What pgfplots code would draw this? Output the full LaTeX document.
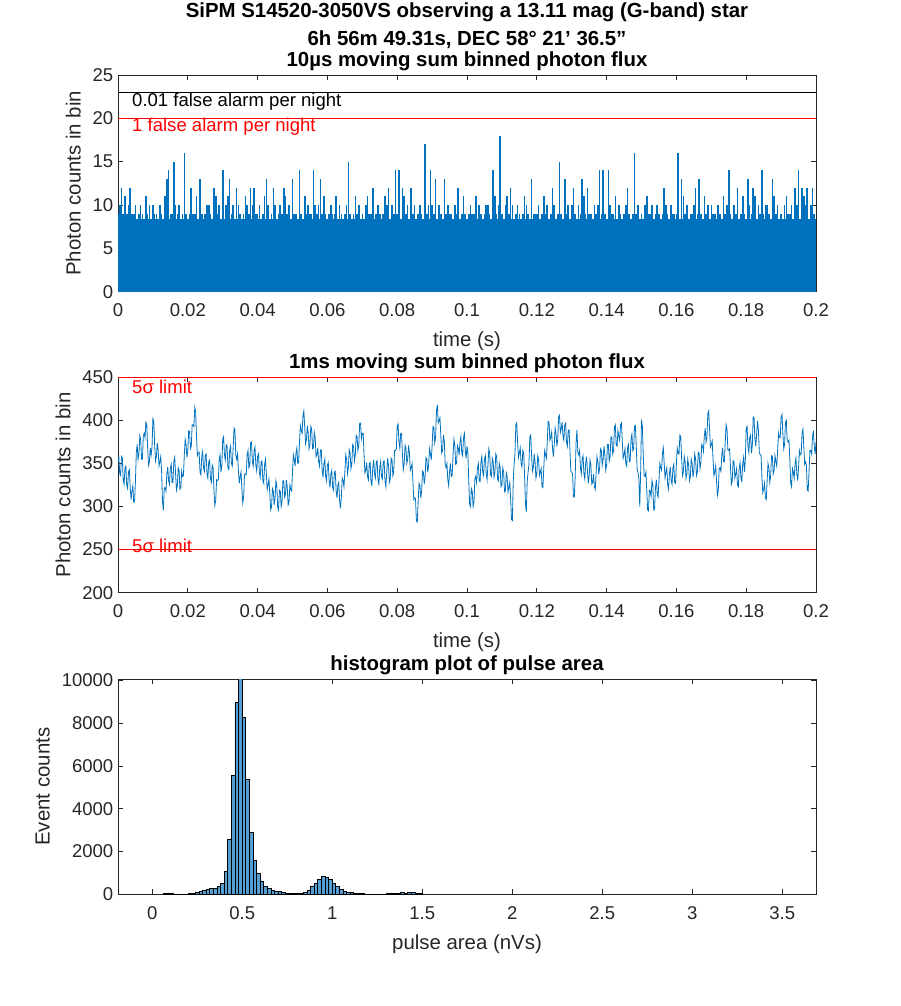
\documentclass[border=0pt]{standalone}
\usepackage{pgfplots}
\pgfplotsset{compat=1.18}
\usepackage{fontspec}
\setmainfont{Liberation Sans}
\definecolor{mblue}{RGB}{0,114,189}
\definecolor{hblue}{RGB}{83,158,210}
\definecolor{axgray}{RGB}{38,38,38}
\begin{document}
\begin{tikzpicture}[x=1pt,y=1pt]
\path[use as bounding box] (0,0) rectangle (675,-754.5);
\pgfplotsset{
 mstyle/.style={
  width=523.5pt, scale only axis,
  axis line style={axgray, line width=0.6pt},
  tick style={axgray, line width=0.6pt},
  major tick length=3.75pt,
  tick align=inside, xtick pos=both, ytick pos=both,
  ticklabel style={font=\fontsize{13.9}{16}\selectfont, text=axgray},
  x tick label style={yshift=-5.6pt},
  label style={font=\fontsize{15.3}{18}\selectfont, text=axgray},
  xlabel style={at={(ticklabel cs:0.5,4.5pt)}},
  ylabel style={at={(ticklabel cs:0.5,2pt)}},
  every axis title/.style={at={(0.5,1)}, anchor=base, yshift=6.6pt, font=\bfseries\fontsize{15.3}{18}\selectfont},
  /pgf/number format/assume math mode=true,
  scaled x ticks=false, scaled y ticks=false,
  clip mode=individual,
 }
}
% ---------------- top panel ----------------
\begin{axis}[mstyle, height=162.5pt, at={(88.5pt,-56.25pt)}, anchor=north west,
  xmin=0, xmax=0.2, ymin=0, ymax=25,
  xtick={0,0.02,0.04,0.06,0.08,0.1,0.12,0.14,0.16,0.18,0.2},
  ytick={0,5,10,15,20,25},
  xticklabel style={/pgf/number format/fixed},
  xlabel={time (s)}, ylabel={Photon counts in bin},
  title={10µs moving sum binned photon flux}]
\addplot[fill=mblue, draw=none] coordinates {(0,8.4) (0.2,8.4)} \closedcycle;
\addplot[ycomb, draw=mblue, line width=1.2pt, mark=none] coordinates {
(0,9)(0.0005,10)(0.001,12)(0.0015,9)(0.002,11)(0.0025,9)(0.003,10)(0.0035,12)(0.004,9)(0.0045,9)(0.005,10)(0.006,9)(0.0065,10)(0.007,9)(0.008,11)(0.0085,9)(0.009,10)
(0.01,10)(0.0105,9)(0.011,9)(0.012,10)(0.0125,9)(0.0135,11)(0.014,13)(0.0145,14)(0.015,9)(0.0155,9)(0.016,15)(0.0165,10)(0.017,9)(0.0175,10)(0.0185,9)(0.019,16)(0.0195,9)
(0.0205,9)(0.021,12)(0.0215,9)(0.022,9)(0.0225,11)(0.0235,13)(0.024,9)(0.025,9)(0.0255,10)(0.026,10)(0.0265,9)(0.0275,12)(0.028,11)(0.0285,9)(0.029,10)
(0.03,14)(0.031,10)(0.0315,11)(0.032,13)(0.0325,9)(0.033,10)(0.034,12)(0.0345,10)(0.035,9)(0.036,9)(0.0365,11)(0.037,10)(0.0375,9)(0.038,12)(0.0385,10)(0.039,12)(0.0395,9)
(0.04,9)(0.0405,10)(0.0415,9)(0.042,11)(0.0425,13)(0.043,10)(0.044,9)(0.0445,12)(0.045,10)(0.046,9)(0.0465,10)(0.047,9)(0.0475,12)(0.048,11)(0.0485,9)(0.049,10)
(0.05,13)(0.0505,9)(0.051,9)(0.052,14)(0.0525,9)(0.0535,11)(0.054,9)(0.0545,10)(0.055,9)(0.0555,9)(0.056,14)(0.0565,10)(0.057,9)(0.0575,10)(0.058,13)(0.0585,9)(0.059,11)(0.0595,9)
(0.0605,9)(0.061,10)(0.0615,9)(0.062,9)(0.0625,11)(0.0635,10)(0.064,9)(0.065,9)(0.0655,10)(0.066,15)(0.0665,9)(0.0675,9)(0.068,11)(0.0685,9)(0.069,10)
(0.07,9)(0.071,10)(0.0715,11)(0.072,9)(0.0725,9)(0.073,12)(0.074,9)(0.0745,10)(0.075,9)(0.076,9)(0.0765,11)(0.077,10)(0.0775,12)(0.0785,10)(0.079,9)(0.0795,14)
(0.08,9)(0.0805,14)(0.0815,12)(0.082,11)(0.0825,9)(0.083,10)(0.084,12)(0.0845,9)(0.085,10)(0.086,9)(0.0865,10)(0.087,9)(0.088,17)(0.0885,9)(0.089,10)(0.0895,14)
(0.09,10)(0.0905,9)(0.091,13)(0.092,10)(0.0925,9)(0.0935,13)(0.094,9)(0.0945,10)(0.095,9)(0.0955,9)(0.0965,10)(0.097,9)(0.0975,12)(0.0985,9)(0.099,11)(0.0995,9)
(0.1005,9)(0.101,10)(0.1015,9)(0.102,9)(0.1025,11)(0.1035,10)(0.104,9)(0.105,9)(0.1055,10)(0.106,10)(0.1065,9)(0.1075,14)(0.108,11)(0.1085,9)(0.109,10)(0.1095,18)
(0.11,9)(0.111,10)(0.1115,11)(0.112,9)(0.1125,12)(0.113,10)(0.114,9)(0.1145,10)(0.115,9)(0.116,9)(0.1165,11)(0.117,10)(0.1175,9)(0.1185,13)(0.119,9)(0.1195,9)
(0.12,9)(0.1205,10)(0.1215,9)(0.122,11)(0.1225,9)(0.123,10)(0.124,9)(0.1245,12)(0.125,10)(0.126,9)(0.1265,15)(0.127,9)(0.128,13)(0.1285,9)(0.129,10)
(0.13,10)(0.1305,12)(0.131,9)(0.132,10)(0.1325,9)(0.133,13)(0.1335,11)(0.134,9)(0.1345,12)(0.135,9)(0.1355,9)(0.1365,10)(0.137,9)(0.1375,10)(0.138,14)(0.1385,9)(0.139,14)(0.1395,9)
(0.1405,14)(0.141,10)(0.1415,9)(0.142,9)(0.1425,11)(0.1435,10)(0.144,9)(0.145,9)(0.1455,10)(0.146,12)(0.1465,9)(0.1475,9)(0.148,16)(0.1485,9)(0.149,10)
(0.15,9)(0.151,10)(0.1515,11)(0.152,9)(0.1525,9)(0.153,10)(0.154,9)(0.1545,10)(0.155,9)(0.156,9)(0.1565,12)(0.157,10)(0.1575,9)(0.1585,10)(0.159,9)(0.1595,9)
(0.16,9)(0.1605,16)(0.1615,13)(0.162,11)(0.1625,9)(0.163,10)(0.164,9)(0.1645,9)(0.165,10)(0.1655,12)(0.166,9)(0.1665,13)(0.167,9)(0.168,11)(0.1685,9)(0.169,10)
(0.17,10)(0.1705,9)(0.171,9)(0.172,10)(0.1725,9)(0.1735,11)(0.174,9)(0.1745,10)(0.175,14)(0.1755,9)(0.1765,10)(0.177,9)(0.1775,12)(0.1785,9)(0.179,11)(0.1795,9)
(0.1805,13)(0.181,10)(0.1815,9)(0.182,12)(0.1825,11)(0.1835,10)(0.184,9)(0.1845,14)(0.185,9)(0.1855,10)(0.186,10)(0.1865,9)(0.1875,13)(0.188,11)(0.1885,9)(0.189,10)
(0.19,9)(0.191,10)(0.1915,11)(0.192,9)(0.1925,9)(0.193,10)(0.194,12)(0.1945,10)(0.195,14)(0.196,12)(0.1965,11)(0.197,10)(0.1975,12)(0.1985,10)(0.199,12)(0.1995,9)
};
\addplot[black, line width=0.75pt, mark=none] coordinates {(0,23) (0.2,23)};
\addplot[red, line width=0.75pt, mark=none] coordinates {(0,20) (0.2,20)};
\node[anchor=west, inner sep=0pt, font=\fontsize{13.9}{16}\selectfont, text=black] at (axis cs:0.004,21.9) {0.01 false alarm per night};
\node[anchor=west, inner sep=0pt, font=\fontsize{13.9}{16}\selectfont, text=red] at (axis cs:0.004,19.0) {1 false alarm per night};
\node[anchor=base, font=\bfseries\fontsize{15.3}{18}\selectfont] at (rel axis cs:0.5,1) [yshift=21.8pt] {6h 56m 49.31s, DEC 58° 21’ 36.5”};
\node[anchor=base, font=\bfseries\fontsize{15.3}{18}\selectfont] at (rel axis cs:0.5,1) [yshift=43.3pt] {SiPM S14520-3050VS observing a 13.11 mag (G-band) star};
\end{axis}
% ---------------- middle panel ----------------
\begin{axis}[mstyle, height=161.5pt, at={(88.5pt,-283pt)}, anchor=north west,
  xmin=0, xmax=0.2, ymin=200, ymax=450,
  xtick={0,0.02,0.04,0.06,0.08,0.1,0.12,0.14,0.16,0.18,0.2},
  ytick={200,250,300,350,400,450},
  xticklabel style={/pgf/number format/fixed},
  xlabel={time (s)}, ylabel={Photon counts in bin},
  title={1ms moving sum binned photon flux}]
\addplot[mblue, line width=0.6pt, mark=none] coordinates {
(0,352)(0.00025,357)(0.0005,338)(0.00075,336)(0.001,358)(0.00125,356)(0.0015,330)(0.00175,326)(0.002,345)(0.00225,347)(0.0025,325)(0.00275,321)(0.003,340)(0.00325,343)(0.0035,322)(0.00375,308)(0.004,318)(0.00425,324)(0.0045,305)(0.00475,306)
(0.005,330)(0.00525,363)(0.0055,372)(0.00575,355)(0.006,362)(0.00625,382)(0.0065,378)(0.00675,355)(0.007,355)(0.00725,382)(0.0075,385)(0.00775,380)(0.008,398)(0.00825,395)(0.0085,368)(0.00875,348)(0.009,352)(0.00925,368)(0.0095,360)(0.00975,369)
(0.01,402)(0.01025,399)(0.0105,372)(0.01075,353)(0.011,358)(0.01125,374)(0.0115,366)(0.01175,347)(0.012,352)(0.01225,358)(0.0125,340)(0.01275,306)(0.013,296)(0.01325,321)(0.0135,322)(0.01375,318)(0.014,338)(0.01425,346)(0.0145,330)(0.01475,326)
(0.015,345)(0.01525,349)(0.0155,328)(0.01575,328)(0.016,352)(0.01625,357)(0.0165,338)(0.01675,319)(0.017,324)(0.01725,345)(0.0175,342)(0.01775,320)(0.018,322)(0.01825,341)(0.0185,335)(0.01875,336)(0.019,360)(0.01925,378)(0.0195,372)(0.01975,357)
(0.02,365)(0.02025,388)(0.0205,387)(0.02075,367)(0.021,370)(0.02125,395)(0.0215,395)(0.02175,393)(0.022,415)(0.02225,410)(0.0225,380)(0.02275,359)(0.023,362)(0.02325,363)(0.0235,340)(0.02375,337)(0.024,358)(0.02425,364)(0.0245,345)(0.02475,341)
(0.025,360)(0.02525,361)(0.0255,338)(0.02575,333)(0.026,352)(0.02625,354)(0.0265,332)(0.02675,328)(0.027,348)(0.02725,345)(0.0275,318)(0.02775,301)(0.028,307)(0.02825,331)(0.0285,330)(0.02875,331)(0.029,355)(0.02925,360)(0.0295,340)(0.02975,347)
(0.03,378)(0.03025,381)(0.0305,360)(0.03075,354)(0.031,372)(0.03125,371)(0.0315,345)(0.03175,343)(0.032,365)(0.03225,370)(0.0325,350)(0.03275,347)(0.033,368)(0.03325,391)(0.0335,389)(0.03375,360)(0.034,355)(0.03425,361)(0.0345,342)(0.03475,327)
(0.035,335)(0.03525,340)(0.0355,320)(0.03575,304)(0.036,311)(0.03625,337)(0.0365,338)(0.03675,337)(0.037,360)(0.03725,365)(0.0375,345)(0.03775,348)(0.038,374)(0.03825,375)(0.0385,352)(0.03875,347)(0.039,365)(0.03925,369)(0.0395,348)(0.03975,341)
(0.04,358)(0.04025,361)(0.0405,340)(0.04075,334)(0.041,352)(0.04125,353)(0.0415,330)(0.04175,327)(0.042,348)(0.04225,355)(0.0425,338)(0.04275,320)(0.043,325)(0.04325,332)(0.0435,315)(0.04375,296)(0.044,300)(0.04425,321)(0.0445,318)(0.04475,302)
(0.045,310)(0.04525,330)(0.0455,325)(0.04575,299)(0.046,296)(0.04625,319)(0.0465,318)(0.04675,300)(0.047,305)(0.04725,330)(0.0475,330)(0.04775,311)(0.048,315)(0.04825,331)(0.0485,322)(0.04875,302)(0.049,305)(0.04925,325)(0.0495,320)(0.04975,318)
(0.05,340)(0.05025,360)(0.0505,355)(0.05075,347)(0.051,362)(0.05125,368)(0.0515,350)(0.05175,351)(0.052,375)(0.05225,394)(0.0525,388)(0.05275,385)(0.053,406)(0.05325,411)(0.0535,392)(0.05375,373)(0.054,378)(0.05425,394)(0.0545,385)(0.05475,367)
(0.055,372)(0.05525,393)(0.0555,390)(0.05575,367)(0.056,368)(0.05625,386)(0.0565,380)(0.05675,358)(0.057,360)(0.05725,368)(0.0575,352)(0.05775,347)(0.058,365)(0.05825,366)(0.0585,342)(0.05875,334)(0.059,350)(0.05925,355)(0.0595,335)(0.05975,330)
(0.06,348)(0.06025,351)(0.0605,330)(0.06075,322)(0.061,338)(0.06125,342)(0.0615,322)(0.06175,319)(0.062,340)(0.06225,341)(0.0625,318)(0.06275,310)(0.063,325)(0.06325,328)(0.0635,307)(0.06375,298)(0.064,312)(0.06425,333)(0.0645,330)(0.06475,323)
(0.065,340)(0.06525,360)(0.0655,355)(0.06575,338)(0.066,345)(0.06625,366)(0.0665,362)(0.06675,344)(0.067,350)(0.06725,372)(0.0675,370)(0.06775,353)(0.068,360)(0.06825,383)(0.0685,381)(0.06875,365)(0.069,372)(0.06925,397)(0.0695,397)(0.06975,379)
(0.07,385)(0.07025,385)(0.0705,360)(0.07075,339)(0.071,342)(0.07125,351)(0.0715,335)(0.07175,331)(0.072,350)(0.07225,351)(0.0725,328)(0.07275,325)(0.073,345)(0.07325,354)(0.0735,338)(0.07375,333)(0.074,352)(0.07425,353)(0.0745,330)(0.07475,326)
(0.075,345)(0.07525,352)(0.0755,335)(0.07575,332)(0.076,352)(0.07625,353)(0.0765,330)(0.07675,323)(0.077,340)(0.07725,356)(0.0775,348)(0.07775,328)(0.078,332)(0.07825,356)(0.0785,355)(0.07875,336)(0.079,340)(0.07925,365)(0.0795,365)(0.07975,367)
(0.08,393)(0.08025,396)(0.0805,375)(0.08075,368)(0.081,385)(0.08125,385)(0.0815,360)(0.08175,343)(0.082,350)(0.08225,371)(0.0825,368)(0.08275,350)(0.083,355)(0.08325,371)(0.0835,362)(0.08375,342)(0.084,345)(0.08425,350)(0.0845,330)(0.08475,308)
(0.085,310)(0.08525,309)(0.0855,283)(0.08575,282)(0.086,305)(0.08625,327)(0.0865,325)(0.08675,310)(0.087,318)(0.08725,341)(0.0875,340)(0.08775,326)(0.088,335)(0.08825,357)(0.0885,355)(0.08875,340)(0.089,348)(0.08925,367)(0.0895,362)(0.08975,354)
(0.09,370)(0.09025,393)(0.0905,392)(0.09075,374)(0.091,380)(0.09125,411)(0.0915,418)(0.09175,397)(0.092,400)(0.09225,403)(0.0925,382)(0.09275,362)(0.093,365)(0.09325,383)(0.0935,376)(0.09375,349)(0.094,345)(0.09425,350)(0.0945,331)(0.09475,324)
(0.095,340)(0.09525,350)(0.0955,335)(0.09575,336)(0.096,360)(0.09625,378)(0.0965,372)(0.09675,349)(0.097,350)(0.09725,371)(0.0975,368)(0.09775,360)(0.098,375)(0.09825,381)(0.0985,362)(0.09875,359)(0.099,380)(0.09925,385)(0.0995,365)(0.09975,356)
(0.1,370)(0.10025,362)(0.1005,330)(0.10075,303)(0.101,300)(0.10125,321)(0.1015,318)(0.10175,300)(0.102,305)(0.10225,332)(0.1025,335)(0.10275,328)(0.103,345)(0.10325,350)(0.1035,330)(0.10375,329)(0.104,352)(0.10425,358)(0.1045,340)(0.10475,336)
(0.105,355)(0.10525,359)(0.1055,338)(0.10575,331)(0.106,348)(0.10625,367)(0.1065,362)(0.10675,337)(0.107,335)(0.10725,356)(0.1075,352)(0.10775,334)(0.108,340)(0.10825,361)(0.1085,358)(0.10875,332)(0.109,330)(0.10925,350)(0.1095,345)(0.10975,323)
(0.11,325)(0.11025,345)(0.1105,340)(0.11075,317)(0.111,318)(0.11125,339)(0.1115,335)(0.11175,317)(0.112,322)(0.11225,328)(0.1125,310)(0.11275,285)(0.113,284)(0.11325,329)(0.1135,350)(0.11375,361)(0.114,395)(0.11425,397)(0.1145,375)(0.11475,357)
(0.115,362)(0.11525,368)(0.1155,350)(0.11575,346)(0.116,365)(0.11625,362)(0.1165,335)(0.11675,303)(0.117,294)(0.11725,329)(0.1175,340)(0.11775,349)(0.118,381)(0.11825,383)(0.1185,360)(0.11875,341)(0.119,345)(0.11925,361)(0.1195,352)(0.11975,333)
(0.12,338)(0.12025,359)(0.1205,355)(0.12075,336)(0.121,340)(0.12125,344)(0.1215,323)(0.12175,322)(0.122,345)(0.12225,365)(0.1225,360)(0.12275,356)(0.123,375)(0.12325,399)(0.1235,398)(0.12375,377)(0.124,380)(0.12425,386)(0.1245,368)(0.12475,358)
(0.125,372)(0.12525,391)(0.1255,385)(0.12575,370)(0.126,378)(0.12625,404)(0.1265,406)(0.12675,386)(0.127,390)(0.12725,398)(0.1275,382)(0.12775,377)(0.128,395)(0.12825,397)(0.1285,375)(0.12875,370)(0.129,388)(0.12925,389)(0.1295,365)(0.12975,341)
(0.13,340)(0.13025,338)(0.1305,311)(0.13075,311)(0.131,335)(0.13125,374)(0.1315,389)(0.13175,363)(0.132,360)(0.13225,365)(0.1325,345)(0.13275,338)(0.133,355)(0.13325,359)(0.1335,338)(0.13375,332)(0.134,350)(0.13425,358)(0.1345,342)(0.13475,327)
(0.135,335)(0.13525,354)(0.1355,348)(0.13575,326)(0.136,328)(0.13625,338)(0.1365,323)(0.13675,320)(0.137,340)(0.13725,358)(0.1375,352)(0.13775,337)(0.138,345)(0.13825,367)(0.1385,365)(0.13875,348)(0.139,355)(0.13925,370)(0.1395,360)(0.13975,342)
(0.14,348)(0.14025,372)(0.1405,372)(0.14075,353)(0.141,358)(0.14125,381)(0.1415,380)(0.14175,361)(0.142,365)(0.14225,392)(0.1425,395)(0.14275,371)(0.143,370)(0.14325,388)(0.1435,382)(0.14375,377)(0.144,395)(0.14425,397)(0.1445,375)(0.14475,356)
(0.145,360)(0.14525,367)(0.1455,350)(0.14575,347)(0.146,368)(0.14625,372)(0.1465,352)(0.14675,353)(0.147,378)(0.14725,384)(0.1475,365)(0.14775,367)(0.148,393)(0.14825,394)(0.1485,370)(0.14875,343)(0.149,340)(0.14925,332)(0.1495,300)(0.14975,339)
(0.15,401)(0.15025,393)(0.1505,360)(0.15075,336)(0.151,335)(0.15125,340)(0.1515,320)(0.15175,296)(0.152,295)(0.15225,319)(0.1525,318)(0.15275,312)(0.153,330)(0.15325,325)(0.1535,296)(0.15375,297)(0.154,322)(0.15425,331)(0.1545,315)(0.15475,311)
(0.155,330)(0.15525,350)(0.1555,345)(0.15575,342)(0.156,362)(0.15625,368)(0.1565,350)(0.15675,333)(0.157,340)(0.15725,345)(0.1575,325)(0.15775,320)(0.158,338)(0.15825,346)(0.1585,330)(0.15875,326)(0.159,345)(0.15925,349)(0.1595,328)(0.15975,327)
(0.16,350)(0.16025,368)(0.1605,362)(0.16075,361)(0.161,383)(0.16125,381)(0.1615,355)(0.16175,336)(0.162,340)(0.16225,358)(0.1625,352)(0.16275,333)(0.163,338)(0.16325,355)(0.1635,348)(0.16375,330)(0.164,335)(0.16425,355)(0.1645,350)(0.16475,334)
(0.165,342)(0.16525,361)(0.1655,355)(0.16575,336)(0.166,340)(0.16625,363)(0.1665,362)(0.16675,344)(0.167,350)(0.16725,372)(0.1675,370)(0.16775,364)(0.168,382)(0.16825,391)(0.1685,375)(0.16875,380)(0.169,408)(0.16925,411)(0.1695,390)(0.16975,369)
(0.17,372)(0.17025,376)(0.1705,355)(0.17075,336)(0.171,340)(0.17125,347)(0.1715,330)(0.17175,313)(0.172,319)(0.17225,344)(0.1725,345)(0.17275,341)(0.173,360)(0.17325,368)(0.1735,352)(0.17375,352)(0.174,375)(0.17425,395)(0.1745,390)(0.17475,366)
(0.175,365)(0.17525,367)(0.1755,345)(0.17575,326)(0.176,330)(0.17625,353)(0.1765,352)(0.17675,333)(0.177,338)(0.17725,344)(0.1775,325)(0.17775,323)(0.178,345)(0.17825,351)(0.1785,332)(0.17875,329)(0.179,350)(0.17925,357)(0.1795,340)(0.17975,354)
(0.18,391)(0.18025,393)(0.1805,370)(0.18075,363)(0.181,380)(0.18125,383)(0.1815,362)(0.18175,371)(0.182,404)(0.18225,403)(0.1825,378)(0.18275,370)(0.183,385)(0.18325,399)(0.1835,389)(0.18375,363)(0.184,360)(0.18425,360)(0.1845,335)(0.18475,316)
(0.185,320)(0.18525,327)(0.1855,310)(0.18575,308)(0.186,330)(0.18625,350)(0.1865,345)(0.18675,328)(0.187,335)(0.18725,359)(0.1875,358)(0.18775,338)(0.188,342)(0.18825,359)(0.1885,352)(0.18875,347)(0.189,365)(0.18925,385)(0.1895,380)(0.18975,380)
(0.19,404)(0.19025,407)(0.1905,385)(0.19075,367)(0.191,372)(0.19125,398)(0.1915,400)(0.19175,376)(0.192,375)(0.19225,377)(0.1925,355)(0.19275,327)(0.193,323)(0.19325,344)(0.1935,340)(0.19375,333)(0.194,350)(0.19425,356)(0.1945,338)(0.19475,330)
(0.195,345)(0.19525,365)(0.1955,360)(0.19575,361)(0.196,385)(0.19625,390)(0.1965,370)(0.19675,349)(0.197,352)(0.19725,348)(0.1975,319)(0.19775,318)(0.198,340)(0.19825,365)(0.1985,365)(0.19875,361)(0.199,381)(0.19925,388)(0.1995,370)(0.19975,361)(0.2,375)
};
\addplot[red, line width=0.75pt, mark=none] coordinates {(0,450) (0.2,450)};
\addplot[red, line width=0.75pt, mark=none] coordinates {(0,250) (0.2,250)};
\node[anchor=west, inner sep=0pt, font=\fontsize{13.9}{16}\selectfont, text=red] at (axis cs:0.004,439) {5σ limit};
\node[anchor=west, inner sep=0pt, font=\fontsize{13.9}{16}\selectfont, text=red] at (axis cs:0.004,254) {5σ limit};
\end{axis}
% ---------------- bottom panel ----------------
\begin{axis}[mstyle, height=161.5pt, at={(88.5pt,-509.25pt)}, anchor=north west,
  xmin=-0.19, xmax=3.688, ymin=0, ymax=10070,
  xtick={0,0.5,1,1.5,2,2.5,3,3.5},
  ytick={0,2000,4000,6000,8000,10000},
  yticklabel style={/pgf/number format/fixed, /pgf/number format/1000 sep={}},
  xlabel={pulse area (nVs)}, ylabel={Event counts},
  title={histogram plot of pulse area}]
\addplot[ybar interval, fill=hblue, draw=black, line width=0.5pt, mark=none] coordinates {
(0.06,50)(0.08,50)(0.10,50)(0.12,0)(0.14,0)(0.16,0)(0.18,0)
(0.20,47)(0.22,62)(0.24,109)(0.26,124)(0.28,187)(0.30,233)(0.32,264)(0.34,264)(0.36,389)(0.38,513)
(0.40,1073)(0.42,2566)(0.44,5552)(0.46,8958)(0.48,10500)(0.50,8258)(0.52,5381)(0.54,2893)(0.56,1586)(0.58,980)
(0.60,607)(0.62,389)(0.64,264)(0.66,202)(0.68,156)(0.70,124)(0.72,78)(0.74,47)(0.76,47)(0.78,47)
(0.80,47)(0.82,47)(0.84,93)(0.86,202)(0.88,373)(0.90,513)(0.92,700)(0.94,840)(0.96,793)(0.98,700)
(1.00,513)(1.02,389)(1.04,233)(1.06,140)(1.08,93)(1.10,93)(1.12,47)(1.14,47)(1.16,47)(1.18,0)
(1.20,0)(1.22,0)(1.24,0)(1.26,0)(1.28,0)(1.30,40)(1.32,40)(1.34,40)(1.36,40)(1.38,109)
(1.40,60)(1.42,109)(1.44,109)(1.46,30)(1.48,30)(1.50,0)
};
\end{axis}
\end{tikzpicture}
\end{document}
